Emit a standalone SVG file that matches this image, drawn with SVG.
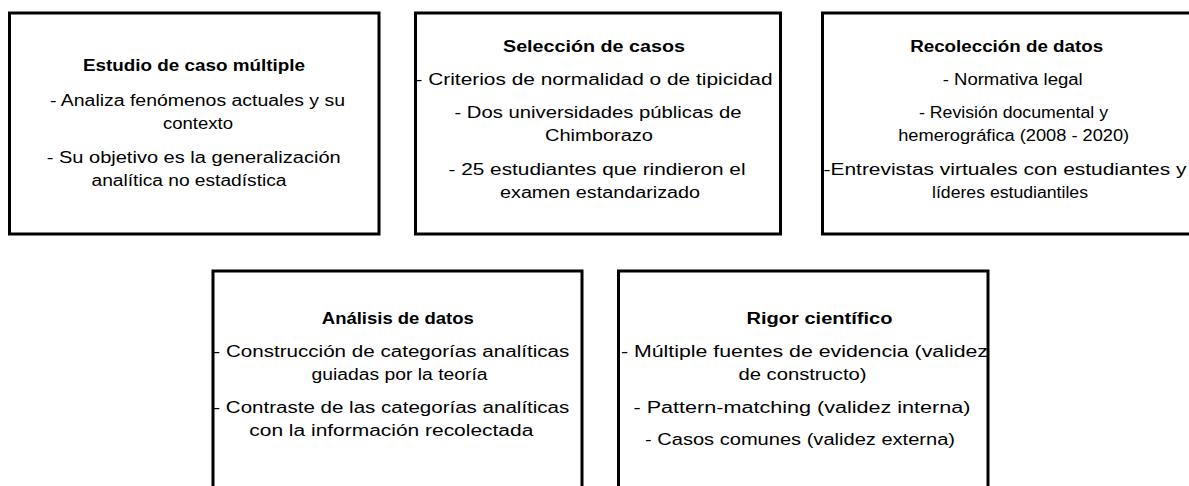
<svg xmlns="http://www.w3.org/2000/svg" width="1189" height="486" viewBox="0 0 1189 486">
<style>
.box{fill:#fff;stroke:#000;stroke-width:3}
text{font-family:"Liberation Sans",Arial,sans-serif;font-size:16px;fill:#000;text-anchor:middle}
.t{font-weight:bold}
</style>
<rect width="1189" height="486" fill="#fff"/>
<g id="connectors"></g>
<g id="n1">
<rect class="box" x="9.5" y="13" width="369.5" height="221"/>
<text class="t" x="194" y="71" textLength="222" lengthAdjust="spacingAndGlyphs">Estudio de caso múltiple</text>
<text x="197.5" y="106" textLength="295" lengthAdjust="spacingAndGlyphs">- Analiza fenómenos actuales y su</text>
<text x="198" y="128.5" textLength="70" lengthAdjust="spacingAndGlyphs">contexto</text>
<text x="193.7" y="162.5" textLength="294" lengthAdjust="spacingAndGlyphs">- Su objetivo es la generalización</text>
<text x="189" y="185.5" textLength="195" lengthAdjust="spacingAndGlyphs">analítica no estadística</text>
</g>
<g id="n2">
<rect class="box" x="415.5" y="13" width="365" height="221"/>
<text class="t" x="594" y="52" textLength="182" lengthAdjust="spacingAndGlyphs">Selección de casos</text>
<text x="594" y="85" textLength="357" lengthAdjust="spacingAndGlyphs">- Criterios de normalidad o de tipicidad</text>
<text x="598" y="117.5" textLength="287" lengthAdjust="spacingAndGlyphs">- Dos universidades públicas de</text>
<text x="599" y="140.5" textLength="108" lengthAdjust="spacingAndGlyphs">Chimborazo</text>
<text x="597" y="174.5" textLength="297" lengthAdjust="spacingAndGlyphs">- 25 estudiantes que rindieron el</text>
<text x="600" y="197.5" textLength="200" lengthAdjust="spacingAndGlyphs">examen estandarizado</text>
</g>
<g id="n3">
<rect class="box" x="822.5" y="13" width="376" height="221"/>
<text class="t" x="1006.7" y="52" textLength="193" lengthAdjust="spacingAndGlyphs">Recolección de datos</text>
<text x="1012.7" y="85" textLength="140" lengthAdjust="spacingAndGlyphs">- Normativa legal</text>
<text x="1013.5" y="117.5" textLength="189" lengthAdjust="spacingAndGlyphs">- Revisión documental y</text>
<text x="1013.7" y="140.5" textLength="231" lengthAdjust="spacingAndGlyphs">hemerográfica (2008 - 2020)</text>
<text x="1005" y="174.5" textLength="363" lengthAdjust="spacingAndGlyphs">-Entrevistas virtuales con estudiantes y</text>
<text x="1010" y="197.5" textLength="156" lengthAdjust="spacingAndGlyphs">líderes estudiantiles</text>
</g>
<g id="n4">
<rect class="box" x="213" y="271" width="369" height="240"/>
<text class="t" x="397.8" y="323.5" textLength="152" lengthAdjust="spacingAndGlyphs">Análisis de datos</text>
<text x="391.3" y="356.5" textLength="356" lengthAdjust="spacingAndGlyphs">- Construcción de categorías analíticas</text>
<text x="399.5" y="379.5" textLength="176" lengthAdjust="spacingAndGlyphs">guiadas por la teoría</text>
<text x="391.3" y="412.5" textLength="356" lengthAdjust="spacingAndGlyphs">- Contraste de las categorías analíticas</text>
<text x="391.3" y="435.5" textLength="284" lengthAdjust="spacingAndGlyphs">con la información recolectada</text>
</g>
<g id="n5">
<rect class="box" x="618.5" y="271" width="369.5" height="240"/>
<text class="t" x="819.5" y="323.5" textLength="146" lengthAdjust="spacingAndGlyphs">Rigor científico</text>
<text x="804.5" y="356.5" textLength="367" lengthAdjust="spacingAndGlyphs">- Múltiple fuentes de evidencia (validez</text>
<text x="802.5" y="379.5" textLength="128" lengthAdjust="spacingAndGlyphs">de constructo)</text>
<text x="802" y="412.5" textLength="337" lengthAdjust="spacingAndGlyphs">- Pattern-matching (validez interna)</text>
<text x="800" y="444.5" textLength="310" lengthAdjust="spacingAndGlyphs">- Casos comunes (validez externa)</text>
</g>
</svg>
